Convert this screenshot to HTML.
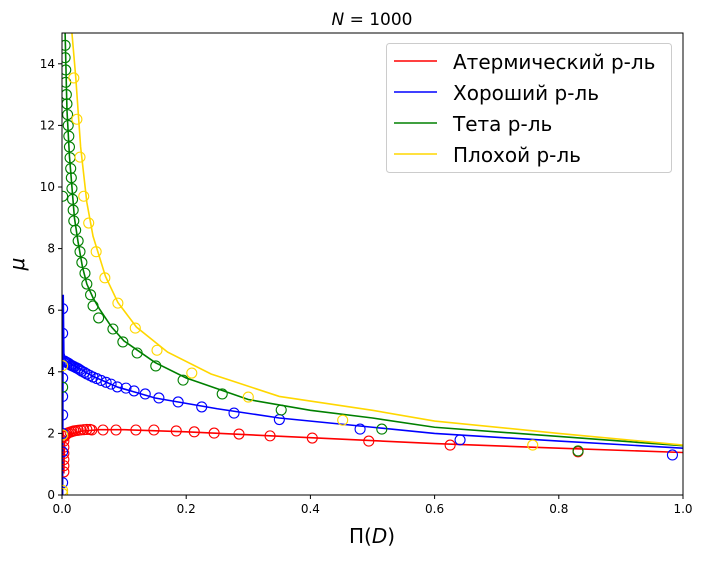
<!DOCTYPE html>
<html><head><meta charset="utf-8"><style>
body{margin:0;background:#fff;width:703px;height:557px;overflow:hidden}
svg{font-family:"DejaVu Sans","Liberation Sans",sans-serif}
</style></head><body>
<svg id="chart" width="703" height="557" xmlns="http://www.w3.org/2000/svg"></svg>
<script>
const xTicks=[0,0.2,0.4,0.6,0.8,1.0];
const xTickLabels=["0.0","0.2","0.4","0.6","0.8","1.0"];
const yTicks=[0,2,4,6,8,10,12,14];
const seriesNames=["Атермический р-ль","Хороший р-ль","Тета р-ль","Плохой р-ль"];
const seriesColors=["#ff0000","#0000ff","#008000","#ffd700"];
const redLine=[[0.003,0.7],[0.004,1.7],[0.01,1.95],[0.03,2.07],[0.06,2.12],[0.1,2.12],[0.2,2.05],[0.4,1.86],[0.6,1.67],[0.8,1.52],[1,1.38]];
const blueLine=[[0.001,0],[0.002,6.5],[0.003,4.6],[0.006,4.35],[0.02,4.2],[0.05,3.85],[0.09,3.5],[0.15,3.15],[0.25,2.8],[0.35,2.5],[0.5,2.2],[0.6,2.0],[0.8,1.75],[1,1.52]];
const greenLine=[[0.005,15],[0.008,12.5],[0.012,11],[0.016,10],[0.02,9],[0.026,8.2],[0.033,7.4],[0.04,6.85],[0.05,6.4],[0.06,6.05],[0.08,5.45],[0.1,5.0],[0.15,4.3],[0.2,3.8],[0.3,3.1],[0.4,2.75],[0.5,2.5],[0.6,2.2],[0.8,1.9],[1,1.6]];
const yellowLine=[[0.016,15],[0.022,13.6],[0.03,11.3],[0.04,9.5],[0.05,8.4],[0.07,7.1],[0.09,6.25],[0.12,5.45],[0.17,4.64],[0.24,3.93],[0.35,3.2],[0.5,2.75],[0.6,2.4],[0.8,2.0],[1,1.62]];
const redPts=[[0.003,0.75],[0.003,0.95],[0.003,1.15],[0.003,1.35],[0.003,1.55],[0.003,1.75],[0.004,1.9],[0.006,1.95],[0.008,1.99],[0.010,2.02],[0.013,2.04],[0.016,2.06],[0.019,2.08],[0.022,2.09],[0.026,2.1],[0.030,2.11],[0.035,2.12],[0.040,2.13],[0.045,2.13],[0.048,2.11],[0.066,2.11],[0.087,2.11],[0.119,2.11],[0.148,2.11],[0.184,2.08],[0.213,2.05],[0.245,2.01],[0.285,1.98],[0.335,1.92],[0.403,1.85],[0.494,1.75],[0.625,1.62],[0.831,1.40]];
const bluePts=[[0.001,6.05],[0.001,5.25],[0.001,3.8],[0.001,3.2],[0.001,2.6],[0.001,2.0],[0.001,1.4],[0.001,0.4],[0.004,4.35],[0.006,4.32],[0.008,4.3],[0.010,4.28],[0.012,4.25],[0.014,4.22],[0.016,4.2],[0.018,4.18],[0.020,4.16],[0.023,4.13],[0.026,4.1],[0.029,4.06],[0.032,4.02],[0.036,3.98],[0.040,3.93],[0.045,3.88],[0.050,3.83],[0.056,3.78],[0.063,3.72],[0.071,3.66],[0.079,3.6],[0.089,3.51],[0.103,3.47],[0.116,3.38],[0.134,3.28],[0.156,3.15],[0.187,3.02],[0.225,2.86],[0.277,2.66],[0.35,2.45],[0.48,2.14],[0.641,1.79],[0.983,1.30]];
const greenPts=[[0.001,9.7],[0.001,3.5],[0.005,14.6],[0.005,14.2],[0.006,13.8],[0.006,13.4],[0.007,13.0],[0.008,12.7],[0.009,12.35],[0.010,12.0],[0.011,11.65],[0.012,11.3],[0.013,10.95],[0.014,10.6],[0.015,10.3],[0.016,9.95],[0.017,9.6],[0.018,9.25],[0.019,8.9],[0.022,8.6],[0.026,8.25],[0.029,7.9],[0.032,7.55],[0.037,7.2],[0.040,6.85],[0.046,6.5],[0.050,6.14],[0.059,5.75],[0.082,5.39],[0.098,4.97],[0.121,4.61],[0.151,4.19],[0.195,3.73],[0.258,3.28],[0.353,2.76],[0.515,2.14],[0.831,1.43]];
const yellowPts=[[0.001,4.2],[0.001,1.95],[0.001,0.15],[0.001,0.05],[0.019,13.54],[0.024,12.2],[0.029,10.97],[0.035,9.7],[0.043,8.83],[0.055,7.9],[0.069,7.05],[0.090,6.23],[0.118,5.42],[0.153,4.7],[0.209,3.96],[0.300,3.18],[0.452,2.43],[0.758,1.62]];

const L=62,R=683,T=33,B=495;
const sx=v=>L+(R-L)*v, sy=v=>B-(B-T)*v/15;
const svg=document.getElementById('chart');
const NS='http://www.w3.org/2000/svg';
function mk(tag,attrs,parent){const e=document.createElementNS(NS,tag);for(const k in attrs)e.setAttribute(k,attrs[k]);(parent||svg).appendChild(e);return e;}
const clip=mk('clipPath',{id:'pc'});mk('rect',{x:L,y:T,width:R-L,height:B-T},clip);
const plot=mk('g',{'clip-path':'url(#pc)'});


const lines=[redLine,blueLine,greenLine,yellowLine];
const pts=[redPts,bluePts,greenPts,yellowPts];
const keys=['atermic','good','theta','bad'];
lines.forEach((ln,i)=>{
  const p=mk('polyline',{points:ln.map(d=>sx(d[0])+','+sy(d[1])).join(' '),fill:'none',stroke:seriesColors[i],'stroke-width':1.6},plot);
  
  
});
pts.forEach((ps,i)=>{
  ps.forEach(d=>{
    const c=mk('circle',{cx:sx(d[0]),cy:sy(d[1]),r:5,fill:'none',stroke:seriesColors[i],'stroke-width':1.1},plot);
    
    
  });
});
const frame=mk('rect',{x:L,y:T,width:R-L,height:B-T,fill:'none',stroke:'#000','stroke-width':1});


xTicks.forEach((v,i)=>{
  mk('line',{x1:sx(v),x2:sx(v),y1:B,y2:B+4,stroke:'#000'});
  const t=mk('text',{x:sx(v),y:B+18,'text-anchor':'middle','font-size':12});t.textContent=xTickLabels[i];
  
  
});
yTicks.forEach(v=>{
  mk('line',{x1:L-4,x2:L,y1:sy(v),y2:sy(v),stroke:'#000'});
  const t=mk('text',{x:L-7,y:sy(v)+4,'text-anchor':'end','font-size':12});t.textContent=v;
  
  
});
</script>
<svg style="position:absolute;left:0;top:0" width="703" height="557" xmlns="http://www.w3.org/2000/svg" font-family="DejaVu Sans, Liberation Sans, sans-serif">
<text x="372" y="25" text-anchor="middle" font-size="17"><tspan font-style="italic">N</tspan> = 1000</text>
<text x="372" y="543" text-anchor="middle" font-size="20">Π(<tspan font-style="italic">D</tspan>)</text>
<text x="24" y="264" text-anchor="middle" font-size="20" font-style="italic" transform="rotate(-90 24 264)">μ</text>
<g>
<rect x="386.5" y="43.5" width="285" height="129" rx="3" fill="#fff" fill-opacity="0.8" stroke="#ccc"/>
<line x1="394" x2="437" y1="61" y2="61" stroke="#ff0000" stroke-width="1.6"/>
<text x="453" y="69" font-size="20">Атермический р-ль</text>
<line x1="394" x2="437" y1="92" y2="92" stroke="#0000ff" stroke-width="1.6"/>
<text x="453" y="100" font-size="20">Хороший р-ль</text>
<line x1="394" x2="437" y1="123" y2="123" stroke="#008000" stroke-width="1.6"/>
<text x="453" y="131" font-size="20">Тета р-ль</text>
<line x1="394" x2="437" y1="154" y2="154" stroke="#ffd700" stroke-width="1.6"/>
<text x="453" y="162" font-size="20">Плохой р-ль</text>
</g>
</svg>
</body></html>
